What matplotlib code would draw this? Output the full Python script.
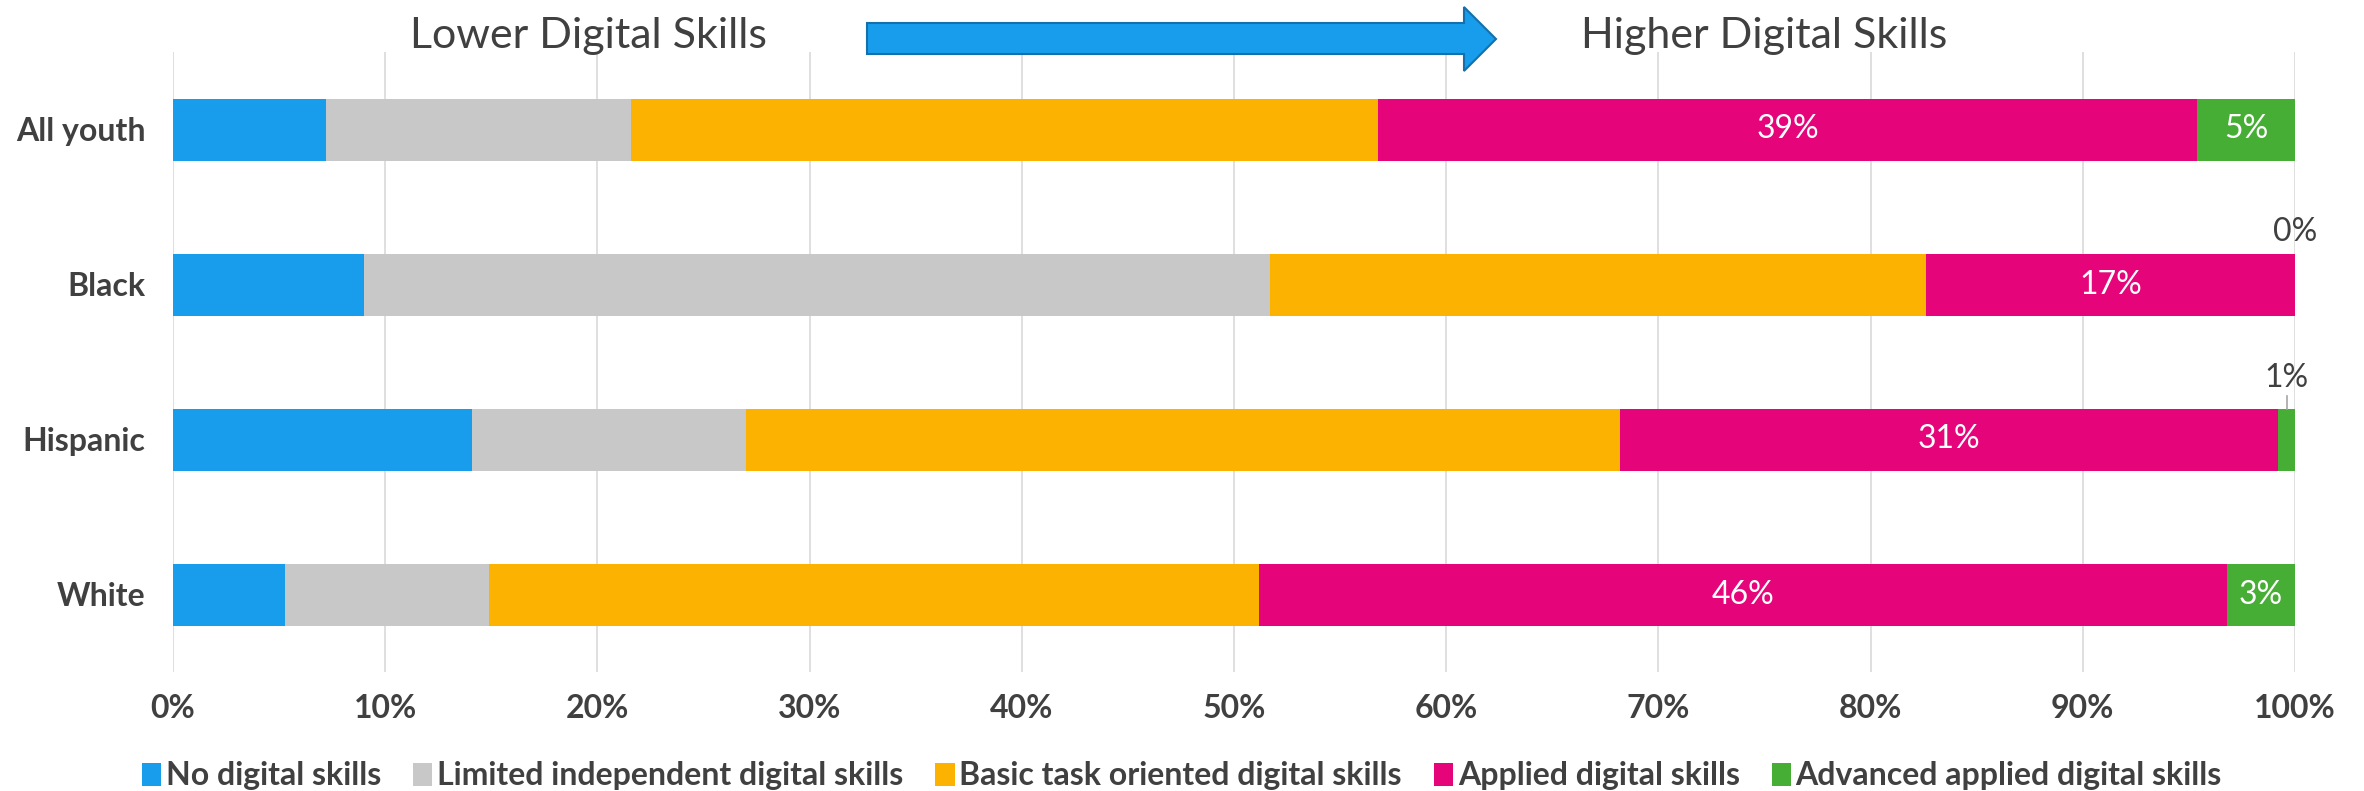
import matplotlib.pyplot as plt
from matplotlib.patches import Polygon

plt.rcParams['font.family'] = ['Lato', 'DejaVu Sans']

groups = ['All youth', 'Black', 'Hispanic', 'White']
levels = ['No digital skills', 'Limited independent digital skills',
          'Basic task oriented digital skills', 'Applied digital skills',
          'Advanced applied digital skills']
no_skills = [7.2, 9.0, 14.1, 5.3]
limited = [14.4, 42.7, 12.9, 9.6]
basic = [35.2, 30.9, 41.2, 36.3]
applied = [38.6, 17.4, 31.0, 45.6]
advanced = [4.6, 0.0, 0.8, 3.2]
xticks = [0, 10, 20, 30, 40, 50, 60, 70, 80, 90, 100]

colors = ['#179DEB', '#C8C8C8', '#FBB200', '#E5047A', '#46AE34']
text_col = '#404040'

W, H = 2364, 791
fig = plt.figure(figsize=(W / 100, H / 100), dpi=100)
ax = fig.add_axes([173 / W, 1 - 672 / H, (2295 - 173) / W, (672 - 52) / H])

series = [no_skills, limited, basic, applied, advanced]
ypos = list(range(len(groups)))
left = [0.0] * len(groups)
for vals, col, name in zip(series, colors, levels):
    ax.barh(ypos, vals, left=left, height=0.4, color=col, label=name,
            edgecolor='none', zorder=3)
    left = [l + v for l, v in zip(left, vals)]

# labels for the two highest levels
for i in ypos:
    start = no_skills[i] + limited[i] + basic[i]
    ax.text(start + applied[i] / 2, i, f'{applied[i]:.0f}%', color='white',
            ha='center', va='center', fontsize=23, zorder=4)
    a = advanced[i]
    s = start + applied[i]
    if a >= 2:
        ax.text(s + a / 2, i, f'{a:.0f}%', color='white', ha='center',
                va='center', fontsize=23, zorder=4)
    elif a > 0:
        ax.plot([s + a / 2, s + a / 2], [i - 0.2, i - 0.28], color='#A6A6A6',
                lw=1.2, zorder=4, clip_on=False)
        ax.text(s + a / 2, i - 0.30, f'{a:.0f}%', color=text_col, ha='center',
                va='bottom', fontsize=23, zorder=4)
    else:
        ax.text(s, i - 0.24, f'{a:.0f}%', color=text_col, ha='center',
                va='bottom', fontsize=23, zorder=4)

ax.set_xlim(0, 100)
ax.set_ylim(3.5, -0.5)
ax.set_xticks(xticks)
ax.set_xticklabels([f'{t}%' for t in xticks], fontsize=23, fontweight='bold',
                   color=text_col)
ax.set_yticks(ypos)
ax.set_yticklabels(groups, fontsize=23, fontweight='bold', color=text_col)
ax.tick_params(length=0)
ax.tick_params(axis='y', pad=20)
ax.tick_params(axis='x', pad=16)
ax.xaxis.grid(True, color='#D9D9D9', lw=1.2, zorder=0)
for sp in ax.spines.values():
    sp.set_visible(False)

leg = fig.legend(loc='center', bbox_to_anchor=(0.5, 1 - 776 / H), ncol=5,
                 frameon=False, handlelength=0.6, handleheight=0.75,
                 handletextpad=0.15, columnspacing=1.0,
                 prop={'size': 23, 'weight': 'bold'})
for t in leg.get_texts():
    t.set_color(text_col)

# direction arrow across the top
def fx(px):
    return px / W

def fy(px):
    return 1 - px / H

arrow_pts = [(867, 23), (1464, 23), (1464, 7), (1496, 39), (1464, 71),
             (1464, 54), (867, 54)]
fig.patches.append(Polygon([(fx(x), fy(y)) for x, y in arrow_pts], closed=True,
                           facecolor='#179DEB', edgecolor='#1470AD', lw=1.5,
                           transform=fig.transFigure, figure=fig))
fig.text(fx(588), fy(36), 'Lower Digital Skills', fontsize=31,
         color=text_col, ha='center', va='center')
fig.text(fx(1764), fy(36), 'Higher Digital Skills', fontsize=31,
         color=text_col, ha='center', va='center')

fig.savefig('out.png', dpi=100)
